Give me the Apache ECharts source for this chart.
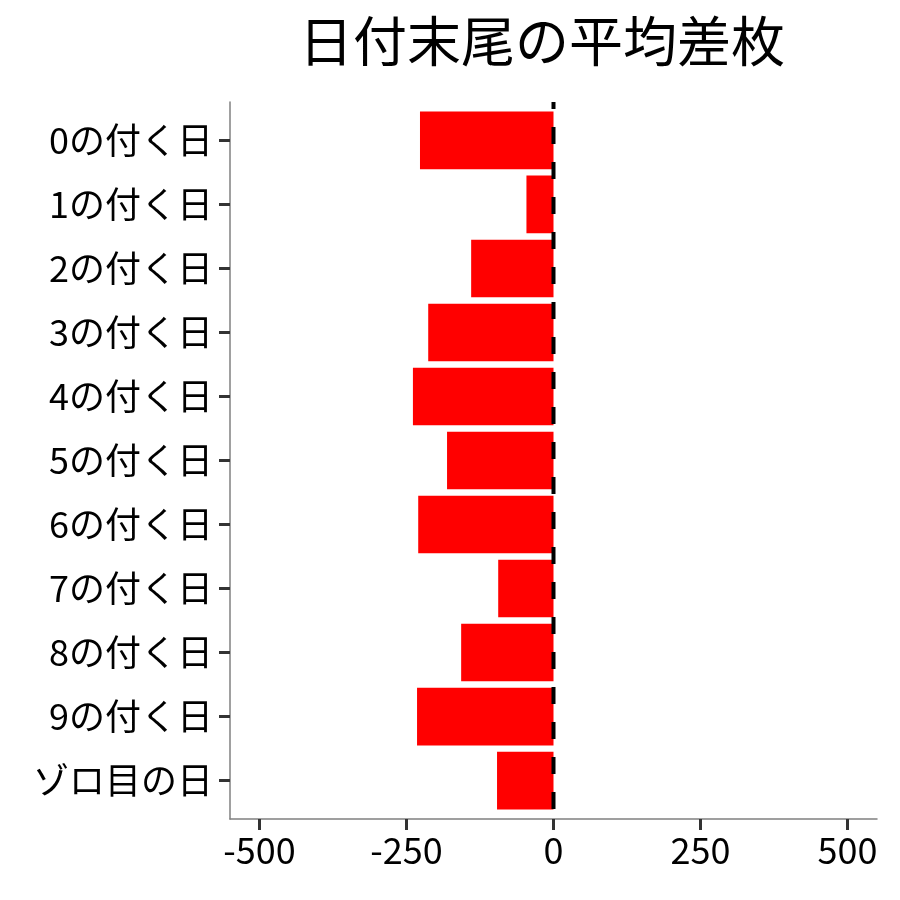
<!DOCTYPE html>
<html>
<head>
<meta charset="utf-8">
<script src="https://cdn.jsdelivr.net/npm/echarts@6/dist/echarts.min.js"></script>
<style>
html,body{margin:0;padding:0;background:#fff;}
#chart{width:900px;height:900px;}
</style>
</head>
<body>
<div id="chart"></div>
<script>
const titleText = '日付末尾の平均差枚';
const categories = ['0の付く日','1の付く日','2の付く日','3の付く日','4の付く日','5の付く日','6の付く日','7の付く日','8の付く日','9の付く日','ゾロ目の日'];
const avgDiff = [-227, -46, -140, -213, -239, -181, -230, -94, -157, -232, -96];
const xTicks = [-500, -250, 0, 250, 500];
const xMin = -550, xMax = 550;
const refLine = 0;

// discrete positions 1..n, with ggplot-like 0.6 expansion on both ends
const catPos = categories.map((c, i) => i + 1);
const yMin = 0.4, yMax = categories.length + 0.6;
const barFrac = 0.9;

const FONT = '"Noto Sans CJK JP", "Noto Sans", sans-serif';
const chart = echarts.init(document.getElementById('chart'));
chart.setOption({
  backgroundColor: '#ffffff',
  animation: false,
  title: {
    text: titleText,
    left: 294,
    top: 9,
    textStyle: { fontFamily: FONT, fontSize: 54, fontWeight: 'normal', color: '#000' }
  },
  grid: { left: 230, right: 23, top: 102, bottom: 81, containLabel: false },
  xAxis: {
    type: 'value',
    min: xMin, max: xMax,
    splitLine: { show: false },
    axisLine: { show: true, onZero: false, lineStyle: { color: '#808080', width: 1.5 } },
    axisTick: { show: true, customValues: xTicks, length: 11, lineStyle: { color: '#333', width: 3 } },
    axisLabel: { customValues: xTicks, fontFamily: FONT, fontSize: 36, color: '#000', margin: 13 }
  },
  yAxis: {
    type: 'value',
    min: yMin, max: yMax,
    inverse: true,
    axisLine: { show: true, onZero: false, lineStyle: { color: '#808080', width: 1.5 } },
    axisTick: { show: true, customValues: catPos, length: 11, lineStyle: { color: '#333', width: 3 } },
    axisLabel: {
      customValues: catPos,
      formatter: v => categories[Math.round(v) - 1],
      fontFamily: FONT, fontSize: 36, color: '#000', margin: 17
    },
    splitLine: { show: false }
  },
  series: [{
    type: 'custom',
    data: avgDiff.map((v, i) => [v, catPos[i]]),
    encode: { x: 0, y: 1 },
    renderItem: function (params, api) {
      const v = api.value(0), p = api.value(1);
      const a = api.coord([0, p]);
      const b = api.coord([v, p]);
      const h = api.size([0, barFrac])[1];
      const x0 = Math.min(a[0], b[0]);
      return {
        type: 'rect',
        shape: { x: x0, y: a[1] - h / 2, width: Math.abs(b[0] - a[0]), height: h },
        style: { fill: '#ff0000' }
      };
    }
  }, {
    type: 'line',
    data: [[refLine, yMin], [refLine, yMax]],
    symbol: 'none',
    silent: true,
    lineStyle: { color: '#000', width: 4, type: [17, 18], dashOffset: 10 },
    z: 5
  }]
});
</script>
</body>
</html>
